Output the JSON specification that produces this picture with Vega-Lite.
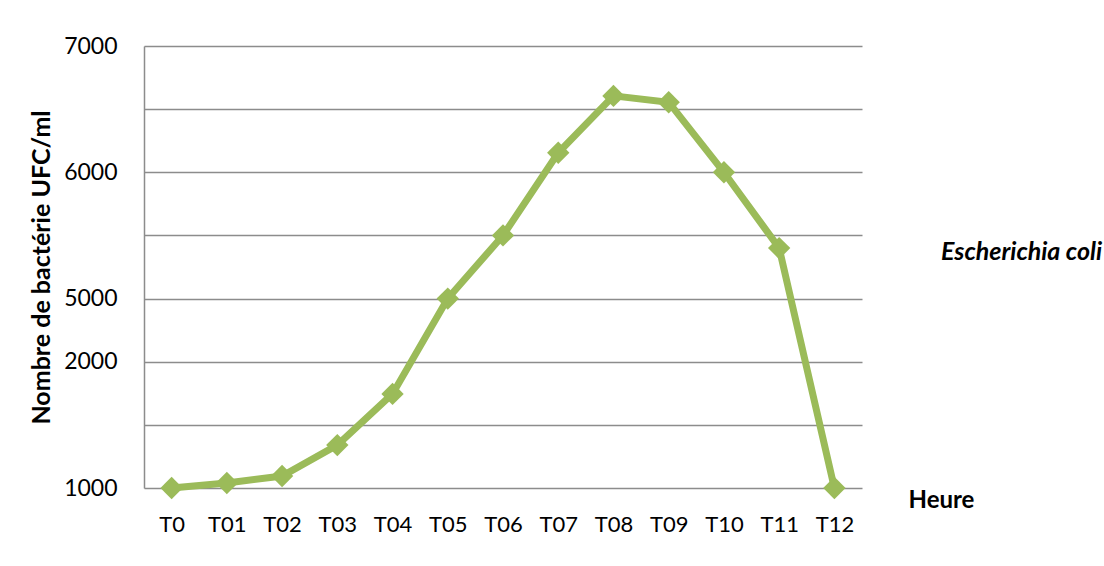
{
  "$schema": "https://vega.github.io/schema/vega-lite/v6.json",
  "width": 718,
  "height": 442,
  "autosize": {"type": "none"},
  "padding": {"left": 144, "top": 46, "right": 242, "bottom": 78},
  "background": "white",
  "config": {
    "font": "Lato",
    "view": {"stroke": null}
  },
  "data": {
    "values": [
      {"heure": "T0", "ufc": 1000, "souche": "Escherichia coli"},
      {"heure": "T01", "ufc": 1040, "souche": "Escherichia coli"},
      {"heure": "T02", "ufc": 1095, "souche": "Escherichia coli"},
      {"heure": "T03", "ufc": 1340, "souche": "Escherichia coli"},
      {"heure": "T04", "ufc": 1745, "souche": "Escherichia coli"},
      {"heure": "T05", "ufc": 5000, "souche": "Escherichia coli"},
      {"heure": "T06", "ufc": 5500, "souche": "Escherichia coli"},
      {"heure": "T07", "ufc": 6155, "souche": "Escherichia coli"},
      {"heure": "T08", "ufc": 6605, "souche": "Escherichia coli"},
      {"heure": "T09", "ufc": 6555, "souche": "Escherichia coli"},
      {"heure": "T10", "ufc": 6000, "souche": "Escherichia coli"},
      {"heure": "T11", "ufc": 5400, "souche": "Escherichia coli"},
      {"heure": "T12", "ufc": 1000, "souche": "Escherichia coli"}
    ]
  },
  "mark": {
    "type": "line",
    "strokeWidth": 7,
    "point": {"shape": "diamond", "size": 500, "filled": true, "opacity": 1}
  },
  "encoding": {
    "x": {
      "field": "heure",
      "type": "ordinal",
      "sort": null,
      "scale": {"type": "point", "padding": 0.5},
      "axis": {
        "title": "Heure",
        "titleFont": "Lato",
        "titleFontSize": 24,
        "titleFontWeight": "bold",
        "titleColor": "black",
        "titleX": 797,
        "titleY": 12,
        "titleAlign": "center",
        "titleBaseline": "middle",
        "labelAngle": 0,
        "labelFontSize": 22,
        "labelColor": "black",
        "labelPadding": 26,
        "ticks": false,
        "domain": false,
        "grid": false
      }
    },
    "y": {
      "field": "ufc",
      "type": "quantitative",
      "scale": {
        "domain": [1000, 2000, 5000, 6000, 7000],
        "range": [442, 315.71, 252.57, 126.29, 0],
        "zero": false,
        "nice": false
      },
      "axis": {
        "title": "Nombre de bactérie UFC/ml",
        "titleFontSize": 25,
        "titleFontWeight": "bold",
        "titleColor": "black",
        "titlePadding": 9,
        "values": [1000, 1500, 2000, 5000, 5500, 6000, 6500, 7000],
        "format": "d",
        "labelExpr": "datum.value == 1500 || datum.value == 5500 || datum.value == 6500 ? '' : datum.label",
        "labelFontSize": 23,
        "labelColor": "black",
        "labelPadding": 27,
        "ticks": false,
        "domain": true,
        "domainColor": "#8c8c8c",
        "domainWidth": 1.5,
        "grid": true,
        "gridColor": "#8c8c8c",
        "gridWidth": 1.5
      }
    },
    "color": {
      "field": "souche",
      "type": "nominal",
      "scale": {"range": ["#9BBB59"]},
      "legend": {
        "title": null,
        "orient": "none",
        "legendX": 772,
        "legendY": 193,
        "symbolOpacity": 0,
        "symbolStrokeWidth": 0,
        "symbolSize": 0,
        "symbolOffset": 0,
        "labelOffset": 0,
        "labelLimit": 400,
        "labelFontSize": 25,
        "labelFontWeight": "bold",
        "labelFontStyle": "italic",
        "labelColor": "black"
      }
    }
  }
}
